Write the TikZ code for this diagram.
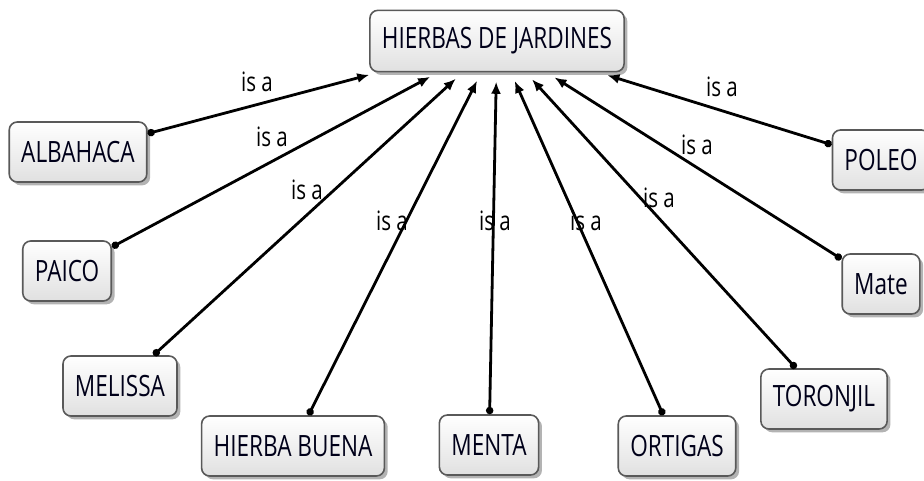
\documentclass[tikz,border=0pt]{standalone}
\usepackage{fontspec}
\setmainfont[FakeStretch=0.77]{Open Sans}
\usetikzlibrary{shadows,arrows.meta}

\begin{document}
\begin{tikzpicture}[x=0.75pt,y=-0.75pt,
	concept/.style={draw=black!65,line width=1.2pt,rounded corners=6pt,top color=white,bottom color=black!12,
		drop shadow={shadow xshift=2.5pt,shadow yshift=-2.5pt,opacity=0.6},
		font=\fontsize{22}{26}\selectfont,text=black!90!blue,inner xsep=9pt,minimum height=45pt},
	link/.style={line width=2.1pt,{Circle[length=5.5pt]}-{Latex[length=9pt,width=7.5pt]},shorten >=7pt},
	isa/.style={font=\fontsize{20}{24}\selectfont,inner sep=0pt}]
			\useasboundingbox (0,0) rectangle (924,481);
			\node[concept,minimum height=46pt] (hierbas) at (497,41) {HIERBAS DE JARDINES};
			\node[concept] (albahaca) at (78,152) {ALBAHACA};
			\node[concept] (paico) at (67,271) {PAICO};
			\node[concept] (melissa) at (120,386) {MELISSA};
			\node[concept] (hbuena) at (293,446) {HIERBA BUENA};
			\node[concept] (menta) at (489,445) {MENTA};
			\node[concept] (ortigas) at (677,446) {ORTIGAS};
			\node[concept] (toronjil) at (824,399) {TORONJIL};
			\node[concept] (mate) at (881,284) {Mate};
			\node[concept] (poleo) at (881,160) {POLEO};
			\draw [link] (albahaca)--(hierbas);
			\draw [link] (paico)--(hierbas);
			\draw [link] (melissa)--(hierbas);
			\draw [link] (hbuena)--(hierbas);
			\draw [link] (menta)--(hierbas);
			\draw [link] (ortigas)--(hierbas);
			\draw [link] (toronjil)--(hierbas);
			\draw [link] (mate)--(hierbas);
			\draw [link] (poleo)--(hierbas);
			\node[isa] (l1) at (257,82) {is a};
			\node[isa] (l2) at (272,137) {is a};
			\node[isa] (l3) at (307,190) {is a};
			\node[isa] (l4) at (392,221) {is a};
			\node[isa] (l5) at (495,221) {is a};
			\node[isa] (l6) at (586,221) {is a};
			\node[isa] (l7) at (659,198) {is a};
			\node[isa] (l8) at (697,145) {is a};
			\node[isa] (l9) at (722,87) {is a};
			\end{tikzpicture}
\end{document}
